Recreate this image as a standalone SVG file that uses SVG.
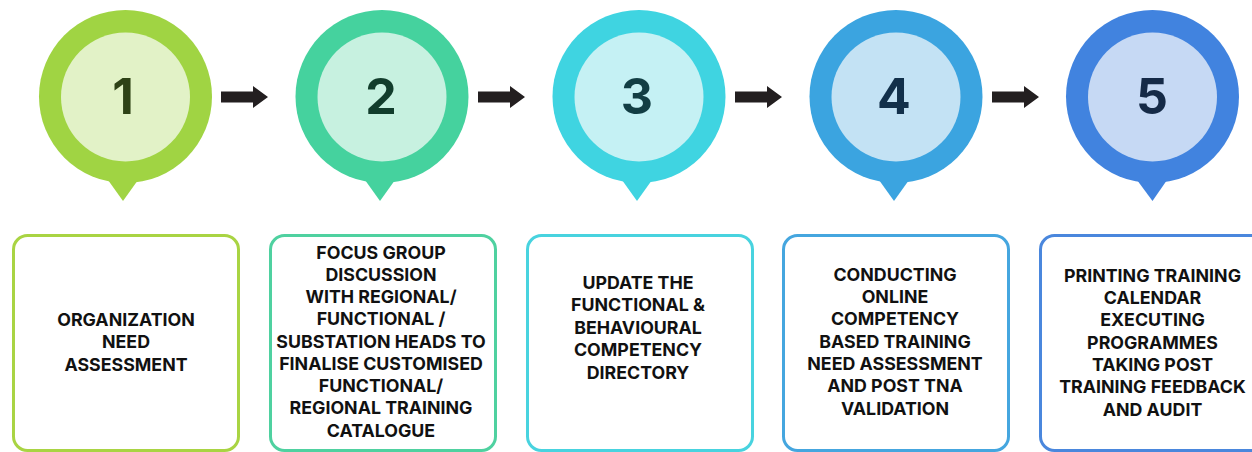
<svg xmlns="http://www.w3.org/2000/svg" width="1252" height="452" viewBox="0 0 1252 452">
<style>
.num{font-family:"Inter","Liberation Sans",sans-serif;font-weight:700;font-size:50px;text-anchor:middle}
.lbl{font-family:"Inter","Liberation Sans",sans-serif;font-weight:700;font-size:17.8px;text-anchor:middle;fill:#111}
.box{fill:#fff;stroke-width:3}
</style>
<defs>
<path id="arr" d="M0,-5.5 H32 V-11 L47,0 L32,11 V5.5 H0 Z" fill="#231f20"/>
</defs>
<rect width="1252" height="452" fill="#fff"/>
<g id="connectors">
<use href="#arr" x="221" y="97"/>
<use href="#arr" x="478" y="97"/>
<use href="#arr" x="735" y="97"/>
<use href="#arr" x="992" y="97"/>
</g>
<g id="step1">
<circle cx="125.5" cy="96.5" r="86.5" fill="#a0d443"/>
<path d="M108,180 L138,180 L123,201 Z" fill="#a0d443"/>
<circle cx="125.5" cy="97" r="64.5" fill="#e2f2c7"/>
<text class="num" x="123" y="114" fill="#2e4216">1</text>
<rect class="box" x="13.5" y="235.5" width="225" height="215" rx="14" stroke="#a9d443"/>
<text class="lbl" x="126" y="325.5">ORGANIZATION</text>
<text class="lbl" x="126" y="348">NEED</text>
<text class="lbl" x="126" y="370.5">ASSESSMENT</text>
</g>
<g id="step2">
<circle cx="382" cy="96.5" r="86.5" fill="#45d29e"/>
<path d="M365,180 L395,180 L380,201 Z" fill="#45d29e"/>
<circle cx="382" cy="97" r="64.5" fill="#c7f1e0"/>
<text class="num" x="381" y="114" fill="#123d2c">2</text>
<rect class="box" x="270.5" y="235.5" width="225" height="215" rx="14" stroke="#4fd1a0"/>
<text class="lbl" x="381" y="258.5">FOCUS GROUP</text>
<text class="lbl" x="381" y="280.8">DISCUSSION</text>
<text class="lbl" x="381" y="303">WITH REGIONAL/</text>
<text class="lbl" x="381" y="325.3">FUNCTIONAL /</text>
<text class="lbl" x="381" y="347.5">SUBSTATION HEADS TO</text>
<text class="lbl" x="381" y="369.8">FINALISE CUSTOMISED</text>
<text class="lbl" x="381" y="392">FUNCTIONAL/</text>
<text class="lbl" x="381" y="414.3">REGIONAL TRAINING</text>
<text class="lbl" x="381" y="436.5">CATALOGUE</text>
</g>
<g id="step3">
<circle cx="639" cy="96.5" r="86.5" fill="#3fd4e1"/>
<path d="M622,180 L652,180 L637,201 Z" fill="#3fd4e1"/>
<circle cx="639" cy="97" r="64.5" fill="#c5f1f4"/>
<text class="num" x="637" y="114" fill="#123e44">3</text>
<rect class="box" x="527.5" y="235.5" width="225" height="215" rx="14" stroke="#48d3df"/>
<text class="lbl" x="638" y="288.5">UPDATE THE</text>
<text class="lbl" x="638" y="311">FUNCTIONAL &amp;</text>
<text class="lbl" x="638" y="333.5">BEHAVIOURAL</text>
<text class="lbl" x="638" y="356">COMPETENCY</text>
<text class="lbl" x="638" y="378.5">DIRECTORY</text>
</g>
<g id="step4">
<circle cx="896" cy="96.5" r="86.5" fill="#3ba4e0"/>
<path d="M879,180 L909,180 L894,201 Z" fill="#3ba4e0"/>
<circle cx="896" cy="97" r="64.5" fill="#c3e2f4"/>
<text class="num" x="894" y="114" fill="#12304a">4</text>
<rect class="box" x="783.5" y="235.5" width="225" height="215" rx="14" stroke="#45a6df"/>
<text class="lbl" x="895" y="280.5">CONDUCTING</text>
<text class="lbl" x="895" y="302.8">ONLINE</text>
<text class="lbl" x="895" y="325.1">COMPETENCY</text>
<text class="lbl" x="895" y="347.5">BASED TRAINING</text>
<text class="lbl" x="895" y="369.8">NEED ASSESSMENT</text>
<text class="lbl" x="895" y="392.1">AND POST TNA</text>
<text class="lbl" x="895" y="414.5">VALIDATION</text>
</g>
<g id="step5">
<circle cx="1152.5" cy="96.5" r="86.5" fill="#4183df"/>
<path d="M1137,180 L1167,180 L1152.5,201 Z" fill="#4183df"/>
<circle cx="1152.5" cy="97" r="64.5" fill="#c6d9f4"/>
<text class="num" x="1152" y="114" fill="#152a47">5</text>
<rect class="box" x="1040.5" y="235.5" width="225" height="215" rx="14" stroke="#4a87dd"/>
<text class="lbl" x="1152.5" y="281.5">PRINTING TRAINING</text>
<text class="lbl" x="1152.5" y="303.8">CALENDAR</text>
<text class="lbl" x="1152.5" y="326.1">EXECUTING</text>
<text class="lbl" x="1152.5" y="348.5">PROGRAMMES</text>
<text class="lbl" x="1152.5" y="370.8">TAKING POST</text>
<text class="lbl" x="1152.5" y="393.1">TRAINING FEEDBACK</text>
<text class="lbl" x="1152.5" y="415.5">AND AUDIT</text>
</g>
</svg>
